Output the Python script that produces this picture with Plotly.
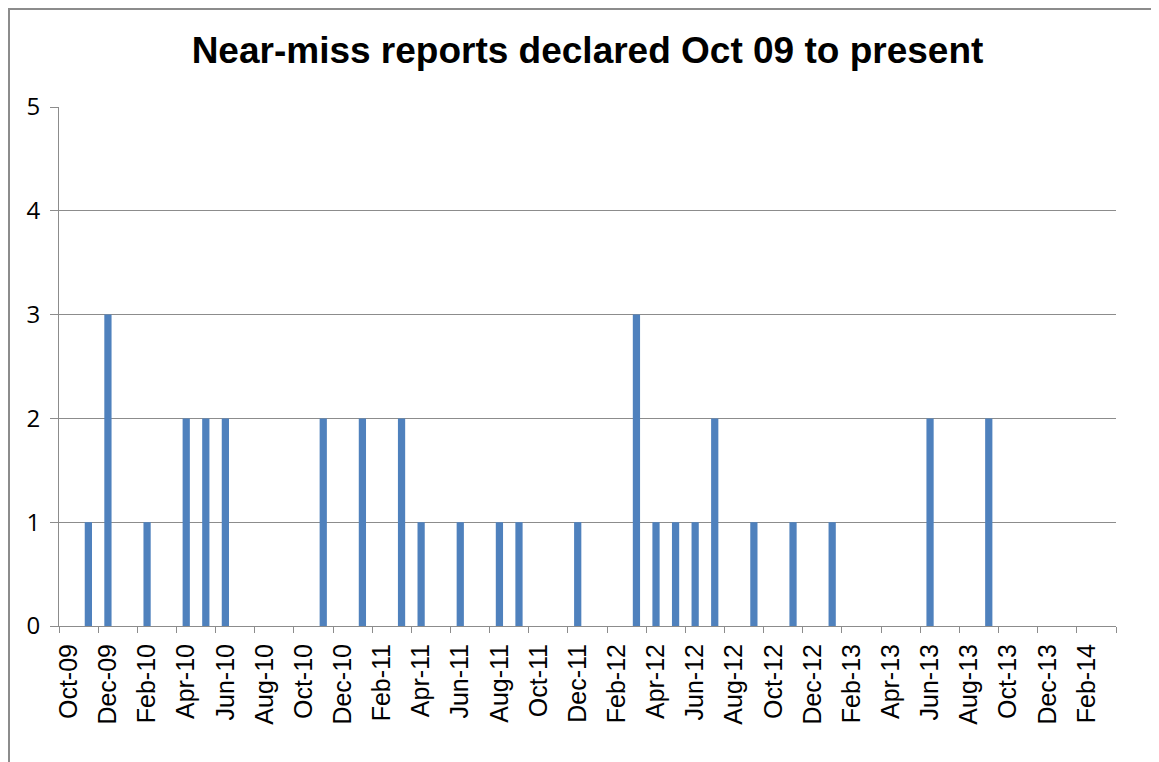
import plotly.graph_objects as go

months = [
    "Oct-09", "Nov-09", "Dec-09", "Jan-10", "Feb-10", "Mar-10", "Apr-10", "May-10", "Jun-10",
    "Jul-10", "Aug-10", "Sep-10", "Oct-10", "Nov-10", "Dec-10", "Jan-11", "Feb-11", "Mar-11",
    "Apr-11", "May-11", "Jun-11", "Jul-11", "Aug-11", "Sep-11", "Oct-11", "Nov-11", "Dec-11",
    "Jan-12", "Feb-12", "Mar-12", "Apr-12", "May-12", "Jun-12", "Jul-12", "Aug-12", "Sep-12",
    "Oct-12", "Nov-12", "Dec-12", "Jan-13", "Feb-13", "Mar-13", "Apr-13", "May-13", "Jun-13",
    "Jul-13", "Aug-13", "Sep-13", "Oct-13", "Nov-13", "Dec-13", "Jan-14", "Feb-14", "Mar-14",
]
reports = [
    0, 1, 3, 0, 1, 0, 2, 2, 2,
    0, 0, 0, 0, 2, 0, 2, 0, 2,
    1, 0, 1, 0, 1, 1, 0, 0, 1,
    0, 0, 3, 1, 1, 1, 2, 0, 1,
    0, 1, 0, 1, 0, 0, 0, 0, 2,
    0, 0, 2, 0, 0, 0, 0, 0, 0,
]
y_ticks = [0, 1, 2, 3, 4, 5]

x = list(range(len(months)))
label_pos = x[::2]
label_txt = months[::2]
# tick marks sit on the boundaries between every second month
bounds = [i - 0.5 for i in x[::2]] + [len(months) - 0.5]

grey = "#8c8c8c"

# page has an 8px body margin, so the figure is a bit smaller than the window
W, H = 1151, 754
L, T, R, B = 51, 99, 43, 136
pw, ph = W - L - R, H - T - B

fig = go.Figure()
fig.add_trace(go.Bar(x=x, y=reports, marker=dict(color="#4f81bd", line=dict(width=0)),
                     showlegend=False))

fig.update_layout(
    width=W, height=H,
    margin=dict(l=L, r=R, t=T, b=B, autoexpand=False),
    paper_bgcolor="white", plot_bgcolor="white",
    bargap=0.63,
    title=dict(text="<b>Near-miss reports declared Oct 09 to present</b>",
               font=dict(family="Liberation Sans, Arial, sans-serif", size=37, color="black"),
               x=0.5, xref="paper", xanchor="center",
               y=1 - 42 / H, yref="container", yanchor="middle"),
    shapes=[dict(type="rect", xref="paper", yref="paper",
                 x0=(1 - L) / pw, x1=1.2, y0=-0.6, y1=(ph + T - 1) / ph,
                 line=dict(color=grey, width=2), fillcolor="rgba(0,0,0,0)", layer="below")],
)

fig.update_xaxes(
    automargin=False,
    range=[-0.5, len(months) - 0.5],
    tickmode="array", tickvals=label_pos, ticktext=label_txt,
    tickangle=-90, ticks="", ticklabelstandoff=7,
    tickfont=dict(family="Liberation Sans, Arial, sans-serif", size=25, color="black"),
    minor=dict(tickmode="array", tickvals=bounds, ticks="outside", ticklen=6,
               tickcolor=grey, tickwidth=1, showgrid=False),
    showline=True, linecolor=grey, linewidth=1,
    showgrid=False, zeroline=False,
)
fig.update_yaxes(
    automargin=False,
    range=[0, 5], tickmode="array", tickvals=y_ticks,
    ticks="outside", ticklen=8, tickcolor=grey, ticklabelstandoff=5,
    tickfont=dict(family="Open Sans, sans-serif", size=24, color="black"),
    showline=True, linecolor=grey, linewidth=1,
    showgrid=True, gridcolor=grey, gridwidth=1, zeroline=False,
)

fig.write_html("out.html")
